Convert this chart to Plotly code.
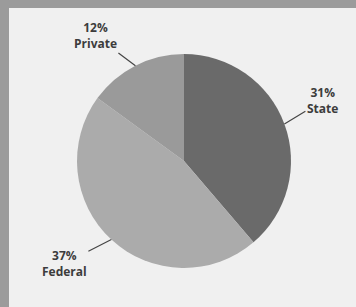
import math
import plotly.graph_objects as go

# Data
categories = ["State", "Federal", "Private"]
values = [31, 37, 12]
pct_labels = ["31%", "37%", "12%"]

# Layout constants (pixels)
W, H = 356, 307
CX, CY, R = 184, 161, 107
colors = ["#6a6a6a", "#ababab", "#9a9a9a"]
# text-box offsets from the slice edge anchor (pixels, x right / y down)
label_offsets = {"State": (38, -23), "Federal": (-47, 24), "Private": (-40, -30)}

fig = go.Figure()
fig.add_trace(go.Pie(
    labels=categories, values=values, sort=False, direction="clockwise", rotation=0,
    marker=dict(colors=colors, line=dict(width=0)),
    textinfo="none", hoverinfo="skip", showlegend=False,
    domain=dict(x=[(CX - R) / W, (CX + R) / W], y=[(H - CY - R) / H, (H - CY + R) / H]),
))

# background panel with top/left frame
fig.add_shape(type="rect", xref="paper", yref="paper", x0=9 / W, x1=1.01, y0=-0.01, y1=1 - 8 / H,
              fillcolor="#f0f0f0", line=dict(width=0), layer="below")

total = sum(values)
start = 0.0
for cat, v, p in zip(categories, values, pct_labels):
    frac = v / total
    mid = (start + frac / 2) * 2 * math.pi
    start += frac
    px = CX + R * math.sin(mid)
    py = CY - R * math.cos(mid)
    dx, dy = label_offsets[cat]
    fig.add_annotation(
        x=px / W, y=1 - py / H, xref="paper", yref="paper",
        text=f"<b>{p}<br>{cat}</b>", showarrow=True, arrowhead=0, arrowwidth=1.2,
        arrowcolor="#454545", ax=dx, ay=dy, standoff=0,
        font=dict(family="Open Sans, Lato, sans-serif", size=12, color="#3c3c3c"),
        align="center",
    )

fig.update_layout(width=W, height=H, margin=dict(l=0, r=0, t=0, b=0),
                  paper_bgcolor="#9b9b9b")
fig.write_html("out.html", config={"displayModeBar": False},
               post_script="document.body.style.margin='0';document.body.style.overflow='hidden';")
